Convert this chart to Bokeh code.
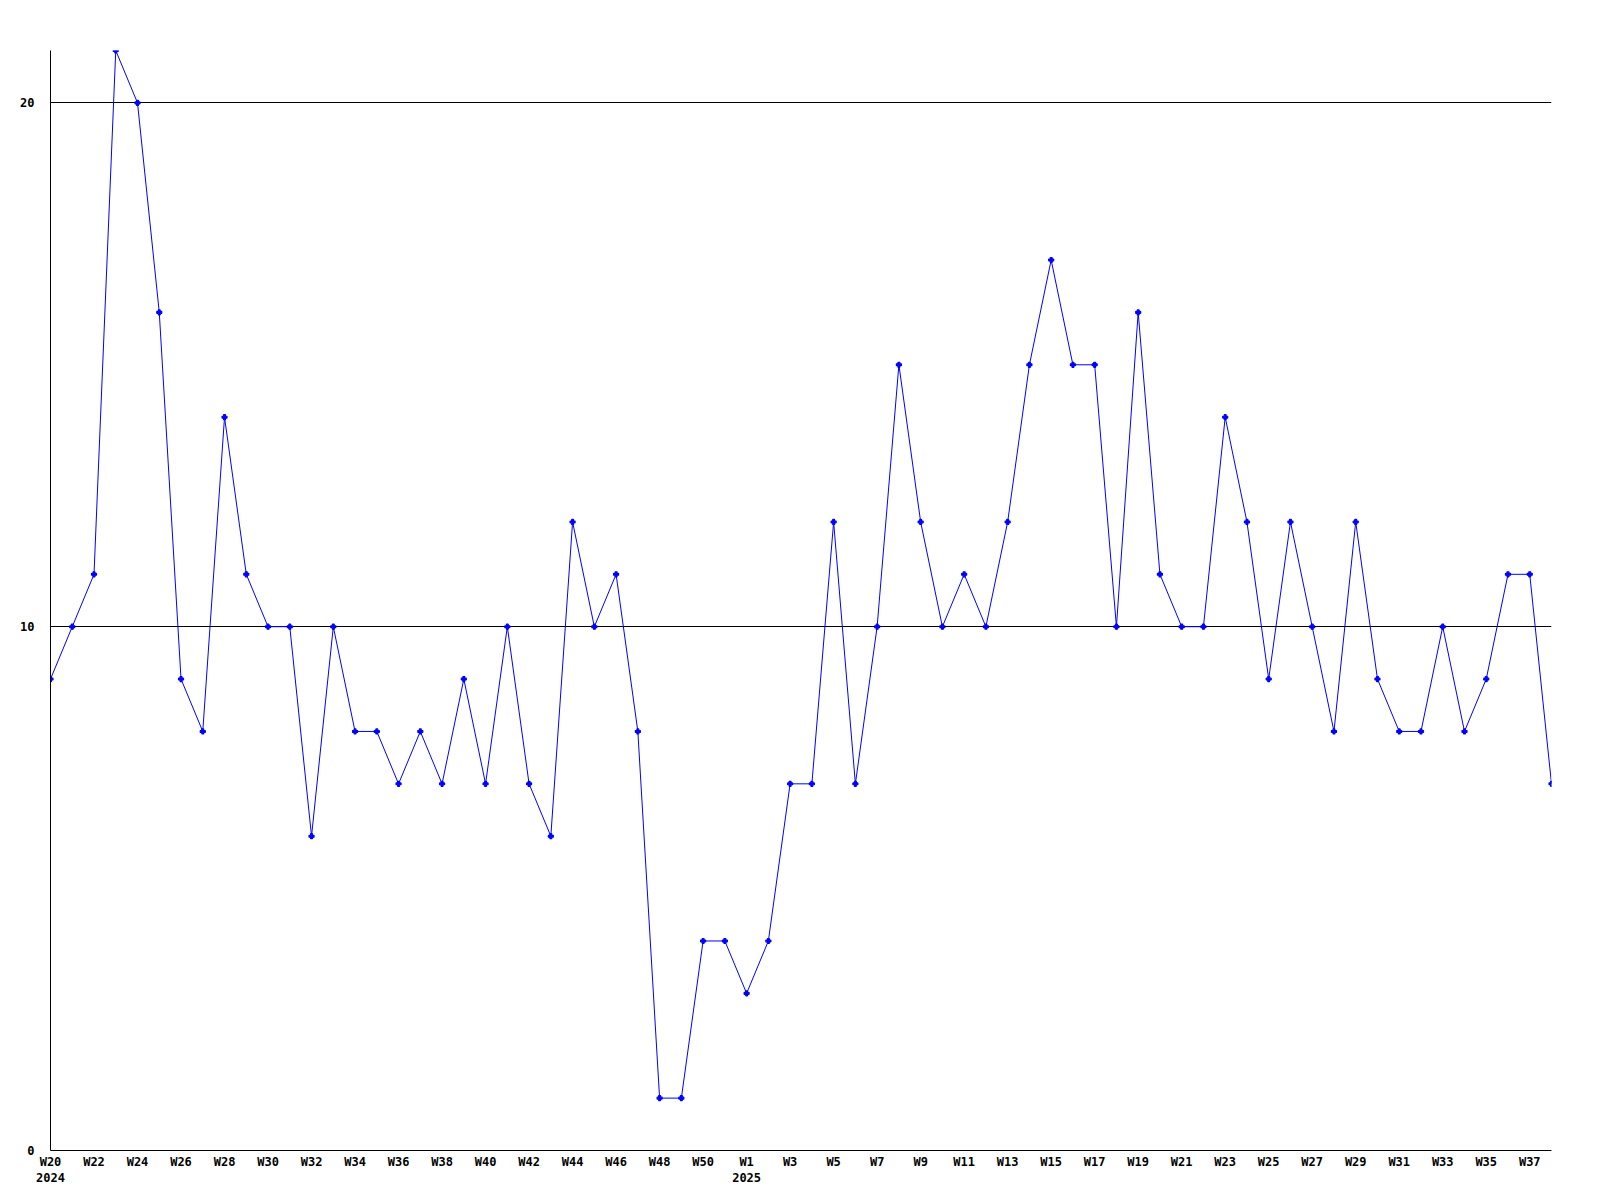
from bokeh.plotting import figure
from bokeh.models import FixedTicker, Range1d
from bokeh.embed import file_html
from bokeh.resources import INLINE

values = [9, 10, 11, 21, 20, 16, 9, 8, 14, 11,
          10, 10, 6, 10, 8, 8, 7, 8, 7, 9,
          7, 10, 7, 6, 12, 10, 11, 8, 1, 1,
          4, 4, 3, 4, 7, 7, 12, 7, 10, 15,
          12, 10, 11, 10, 12, 15, 17, 15, 15, 10,
          16, 11, 10, 10, 14, 12, 9, 12, 10, 8,
          12, 9, 8, 8, 10, 8, 9, 11, 11, 7]

tick_labels = ["W20\n2024", "W22", "W24", "W26", "W28", "W30", "W32", "W34", "W36",
               "W38", "W40", "W42", "W44", "W46", "W48", "W50", "W1\n2025", "W3",
               "W5", "W7", "W9", "W11", "W13", "W15", "W17", "W19", "W21", "W23",
               "W25", "W27", "W29", "W31", "W33", "W35", "W37"]
y_ticks = [0, 10, 20]

x = list(range(len(values)))
tick_pos = list(range(0, 2 * len(tick_labels), 2))

p = figure(width=1584, height=1188, output_backend="svg", toolbar_location=None,
           x_range=Range1d(0, len(values) - 1), y_range=Range1d(0, 21),
           min_border_left=50, min_border_right=33, min_border_top=50, min_border_bottom=28)
p.outline_line_color = None
p.background_fill_color = "white"
p.border_fill_color = "white"

p.line(x, values, line_color="#0000ff", line_width=1)
p.scatter(x, values, marker="plus", size=5, line_color="#0000ff", fill_color="#0000ff", line_width=1.2)

p.xgrid.visible = False
p.ygrid.ticker = FixedTicker(ticks=[10, 20])
p.ygrid.grid_line_color = "black"
p.ygrid.grid_line_alpha = 1.0
p.ygrid.grid_line_width = 1

p.xaxis.ticker = FixedTicker(ticks=tick_pos)
p.xaxis.major_label_overrides = {pos: lab for pos, lab in zip(tick_pos, tick_labels)}
p.yaxis.ticker = FixedTicker(ticks=y_ticks)

for ax in (p.xaxis, p.yaxis):
    ax.axis_line_color = "black"
    ax.axis_line_width = 1
    ax.major_tick_line_color = None
    ax.minor_tick_line_color = None
    ax.major_tick_out = 0
    ax.major_tick_in = 0
    ax.major_label_text_font = "DejaVu Sans Mono"
    ax.major_label_text_font_style = "bold"
    ax.major_label_text_font_size = "12px"
    ax.major_label_text_color = "black"

p.xaxis.major_label_standoff = 4
p.yaxis.major_label_standoff = 16

open("out.html", "w").write(file_html(p, INLINE))
